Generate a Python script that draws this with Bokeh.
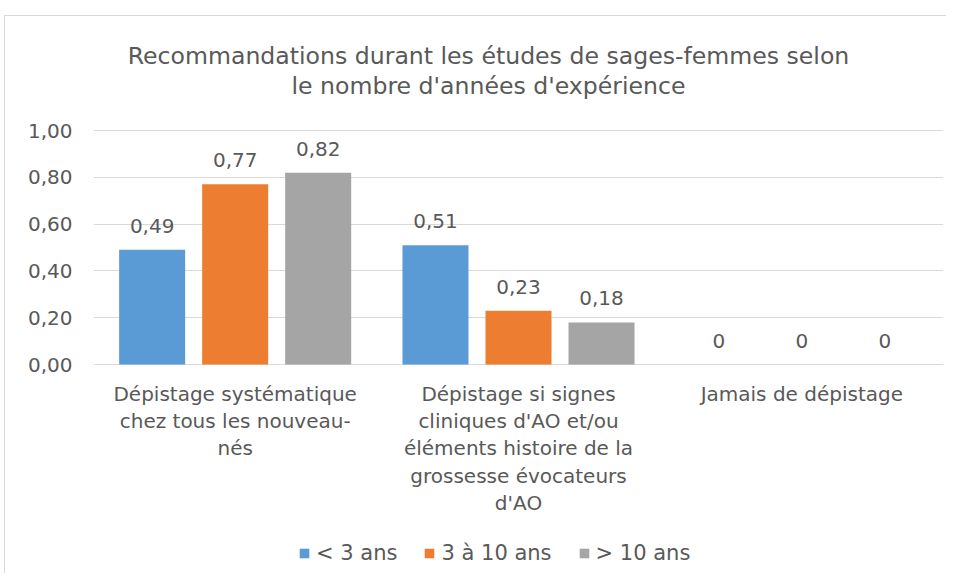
from bokeh.plotting import figure
from bokeh.models import (FactorRange, Range1d, CustomJSTickFormatter, FixedTicker,
                          ColumnDataSource, Legend, LegendItem, Label)
from bokeh.transform import dodge
from bokeh.core.properties import value
from bokeh.embed import file_html
from bokeh.resources import INLINE

# ---- data ----
categories = [
    "Dépistage systématique\nchez tous les nouveau-\nnés",
    "Dépistage si signes\ncliniques d'AO et/ou\néléments histoire de la\ngrossesse évocateurs\nd'AO",
    "Jamais de dépistage",
]
series_names = ["< 3 ans", "3 à 10 ans", "> 10 ans"]
lt3 = [0.49, 0.51, 0.0]
mid = [0.77, 0.23, 0.0]
gt10 = [0.82, 0.18, 0.0]
y_ticks = [0.0, 0.2, 0.4, 0.6, 0.8, 1.0]
title_lines = ["Recommandations durant les études de sages-femmes selon",
               "le nombre d'années d'expérience"]

colors = ["#5B9BD5", "#ED7D31", "#A5A5A5"]
TEXT = "#595959"
FONT = "DejaVu Sans"


def fmt(v):
    return "0" if v == 0 else f"{v:.2f}".replace(".", ",")


src = ColumnDataSource(dict(
    cat=categories,
    zero=[0.0] * len(categories),
    s0=lt3, s1=mid, s2=gt10,
    l0=[fmt(v) for v in lt3], l1=[fmt(v) for v in mid], l2=[fmt(v) for v in gt10],
))

# frame spans the whole drawing area; y range extended so that 0..1 sits
# where the reference plot area is, leaving room for title, labels and legend
p = figure(x_range=FactorRange(*categories, range_padding=0),
           y_range=Range1d(-0.8974, 1.4872),
           x_axis_location=None,
           width=942, height=558,
           output_backend="svg", toolbar_location=None,
           min_border_left=88, min_border_right=4,
           min_border_top=0, min_border_bottom=0)
p.styles = {"margin-left": "4px", "margin-top": "15px",
            "border-top": "1px solid #D9D9D9", "border-left": "1px solid #D9D9D9"}

p.outline_line_color = None
p.xgrid.grid_line_color = None
p.xgrid.visible = False
p.ygrid.grid_line_color = "#D9D9D9"
p.ygrid.grid_line_width = 1
p.ygrid.ticker = FixedTicker(ticks=y_ticks)

p.yaxis.ticker = FixedTicker(ticks=y_ticks)
p.yaxis.formatter = CustomJSTickFormatter(code="return tick.toFixed(2).replace('.', ',');")
p.yaxis.axis_line_color = None
p.yaxis.major_tick_line_color = None
p.yaxis.minor_tick_line_color = None
p.yaxis.major_label_standoff = 15
p.yaxis.major_label_text_font = FONT
p.yaxis.major_label_text_font_size = "20px"
p.yaxis.major_label_text_color = TEXT

# title
title_y = [519, 489]
for line, ty in zip(title_lines, title_y):
    p.add_layout(Label(x=395, y=ty, x_units="screen", y_units="screen", text=line,
                       text_align="center", text_baseline="middle",
                       text_font=FONT, text_font_size="23.6px", text_color=TEXT))

# category labels under the baseline
p.text(x="cat", y="zero", text="cat", source=src, text_align="center",
       text_baseline="top", y_offset=17, text_line_height=1.14,
       text_font=value(FONT), text_font_size="20px", text_color=TEXT)

offsets = [-0.293, 0.0, 0.293]
bw = 0.233
items = []
for i, (name, c, off) in enumerate(zip(series_names, colors, offsets)):
    r = p.vbar(x=dodge("cat", off, range=p.x_range), top=f"s{i}", width=bw,
               source=src, fill_color=c, line_color=None)
    p.text(x=dodge("cat", off, range=p.x_range), y=f"s{i}", text=f"l{i}", source=src,
           text_align="center", text_baseline="bottom", y_offset=-17,
           text_font=value(FONT), text_font_size="20px", text_color=TEXT)
    items.append(LegendItem(label=name, renderers=[r]))

legend = Legend(items=items, orientation="horizontal", location=(205, 9),
                border_line_color=None, background_fill_alpha=0,
                label_text_font=FONT, label_text_font_size="21px",
                label_text_color=TEXT, glyph_width=12, glyph_height=12,
                spacing=26, label_standoff=6, margin=0, padding=6)
p.add_layout(legend, "center")

open("out.html", "w").write(file_html(p, INLINE))
